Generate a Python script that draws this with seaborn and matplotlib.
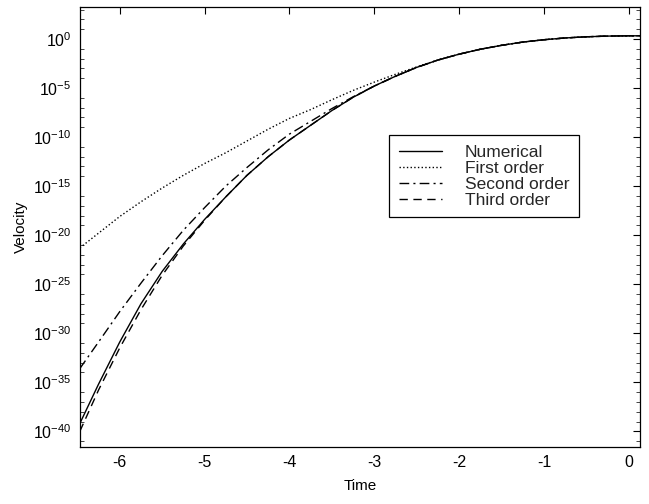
import numpy as np
import pandas as pd
import matplotlib
matplotlib.use("Agg")
import matplotlib.pyplot as plt
import seaborn as sns
from matplotlib.ticker import FixedLocator, FixedFormatter, NullFormatter

# ---- data (log10 of velocity) ----
t_num = [-6.47, -6.25, -6.0, -5.75, -5.5, -5.25, -5.0, -4.75, -4.5, -4.25, -4.0,
         -3.75, -3.5, -3.25, -3.0, -2.75, -2.5, -2.25, -2.0, -1.75, -1.5, -1.25,
         -1.0, -0.75, -0.5, -0.25, 0.0, 0.13]
log_num = [-39.2, -35.2, -30.9, -27.0, -23.7, -20.9, -18.4, -16.1, -13.9, -12.0, -10.3,
           -8.8, -7.3, -5.95, -4.8, -3.8, -2.9, -2.15, -1.55, -1.05, -0.65, -0.32,
           -0.08, 0.1, 0.22, 0.29, 0.32, 0.32]

t_first = [-6.47, -6.25, -6.0, -5.75, -5.5, -5.25, -5.0, -4.75, -4.5, -4.25, -4.0,
           -3.75, -3.5, -3.25, -3.0, -2.75, -2.5, -2.25, -2.0, -1.75, -1.5, -1.25,
           -1.0, -0.75, -0.5, -0.25, 0.0, 0.13]
log_first = [-21.3, -19.8, -18.1, -16.6, -15.2, -13.9, -12.7, -11.6, -10.4, -9.2, -8.1,
             -7.2, -6.2, -5.25, -4.4, -3.6, -2.85, -2.15, -1.55, -1.05, -0.65, -0.32,
             -0.08, 0.1, 0.22, 0.29, 0.32, 0.32]

t_second = [-6.47, -6.25, -6.0, -5.75, -5.5, -5.25, -5.0, -4.75, -4.5, -4.25, -4.0,
            -3.75, -3.5, -3.25, -3.0, -2.75, -2.5, -2.25, -2.0, -1.75, -1.5, -1.25,
            -1.0, -0.75, -0.5, -0.25, 0.0, 0.13]
log_second = [-33.6, -30.9, -27.8, -24.9, -22.1, -19.5, -17.2, -15.0, -13.1, -11.3, -9.7,
              -8.4, -7.1, -5.9, -4.8, -3.8, -2.9, -2.15, -1.55, -1.05, -0.65, -0.32,
              -0.08, 0.1, 0.22, 0.29, 0.32, 0.32]

t_third = [-6.47, -6.25, -6.0, -5.75, -5.5, -5.25, -5.0, -4.75, -4.5, -4.25, -4.0,
           -3.75, -3.5, -3.25, -3.0, -2.75, -2.5, -2.25, -2.0, -1.75, -1.5, -1.25,
           -1.0, -0.75, -0.5, -0.25, 0.0, 0.13]
log_third = [-40.0, -35.8, -31.5, -27.6, -24.1, -21.1, -18.5, -16.1, -13.9, -12.0, -10.3,
             -8.8, -7.3, -5.95, -4.8, -3.8, -2.9, -2.15, -1.55, -1.05, -0.65, -0.32,
             -0.08, 0.1, 0.22, 0.29, 0.32, 0.32]

series_names = ["Numerical", "First order", "Second order", "Third order"]
x_ticks = [-6, -5, -4, -3, -2, -1, 0]
y_tick_exps = [0, -5, -10, -15, -20, -25, -30, -35, -40]

sns.set_theme(style="white")
plt.rcParams['font.family'] = ['Liberation Sans', 'DejaVu Sans']
plt.rcParams['mathtext.fontset'] = 'custom'
plt.rcParams['mathtext.rm'] = 'Liberation Sans'
plt.rcParams['mathtext.it'] = 'Liberation Sans'
plt.rcParams['mathtext.bf'] = 'Liberation Sans'
plt.rcParams['axes.unicode_minus'] = False

fig = plt.figure(figsize=(6.49, 5.04), dpi=100)
ax = fig.add_axes([0.123, 0.113, 0.863, 0.873])

styles = ["-", ":", (0, (7, 3, 1.5, 3)), (0, (6, 4))]
data = [(t_num, log_num), (t_first, log_first), (t_second, log_second), (t_third, log_third)]
for name, (tt, ll), ls in zip(series_names, data, styles):
    vals = 10.0 ** np.array(ll)
    sns.lineplot(x=tt, y=vals, ax=ax, color="black", linewidth=1.0,
                 linestyle=ls, label=name, legend=False)

ax.set_yscale("log")
ax.set_xlim(-6.47, 0.13)
ax.set_ylim(10 ** -41.6, 10 ** 3.25)

ax.xaxis.set_major_locator(FixedLocator(x_ticks))
ax.set_xticklabels([str(v) for v in x_ticks])
ax.yaxis.set_major_locator(FixedLocator([10.0 ** e for e in y_tick_exps]))
ax.yaxis.set_major_formatter(FixedFormatter([r"$10^{%d}$" % e for e in y_tick_exps]))
ax.yaxis.set_minor_locator(FixedLocator([10.0 ** e for e in range(-41, 4) if e % 5 != 0]))
ax.yaxis.set_minor_formatter(NullFormatter())

ax.tick_params(axis="both", which="major", direction="in", length=5, width=0.8,
               top=True, right=True, labelsize=11.5, colors="black", pad=6)
ax.tick_params(axis="y", which="minor", direction="in", length=3, width=0.6,
               left=True, right=True)
for sp in ax.spines.values():
    sp.set_color("black")
    sp.set_linewidth(0.9)

ax.set_xlabel("Time", fontsize=11, color="black", labelpad=6)
ax.set_ylabel("Velocity", fontsize=11, color="black", labelpad=4)

leg = ax.legend(loc="upper left", bbox_to_anchor=(0.552, 0.709), fontsize=12.5,
                frameon=True, fancybox=False, edgecolor="black", framealpha=1,
                handlelength=2.5, borderpad=0.55, labelspacing=0.05, handletextpad=1.3,
                borderaxespad=0)
leg.get_frame().set_linewidth(0.9)

fig.savefig("out.png", dpi=100)
